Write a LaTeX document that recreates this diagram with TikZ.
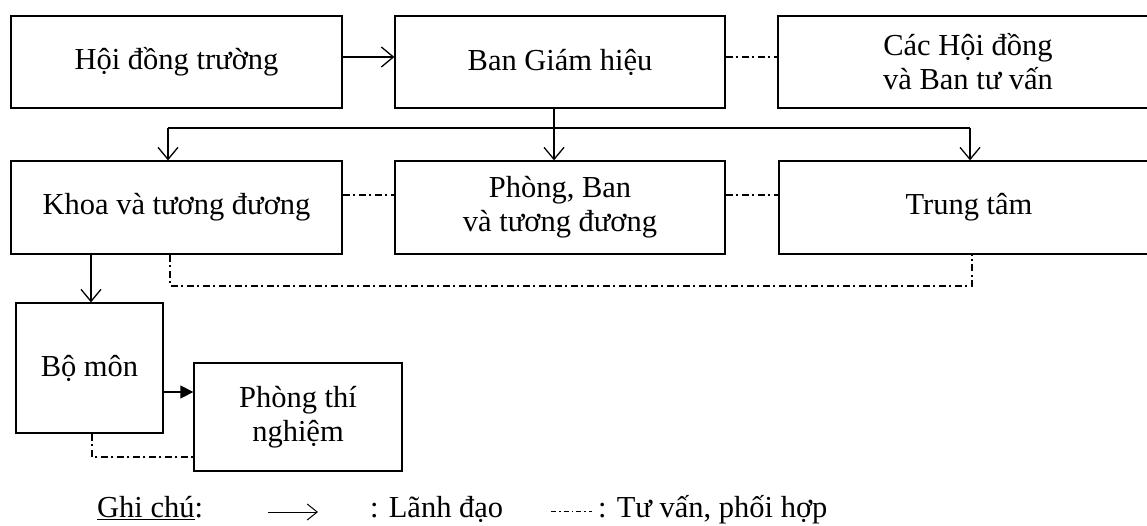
\documentclass[tikz,border=0pt]{standalone}
\usepackage{fontspec}
\setmainfont{Liberation Serif}
\usetikzlibrary{arrows.meta}
\begin{document}
\begin{tikzpicture}[x=1pt,y=-1pt,
  txt/.style={font=\fontsize{30.5}{34}\selectfont},
  box/.style={txt, draw, line width=1.3pt, align=center, inner sep=0pt},
  lead/.style={line width=1.3pt, -{Straight Barb[length=12pt,width=20pt,line width=1.3pt]}},
  leadkey/.style={line width=1pt, -{Straight Barb[length=10pt,width=16pt,line width=1pt]}},
  leadfill/.style={line width=1.3pt, -{Triangle[length=13pt,width=13pt]}},
  link/.style={line width=1.3pt},
  advise/.style={line width=1.2pt, dash pattern=on 7pt off 3.5pt on 2pt off 3.5pt},
  advisesmall/.style={line width=1pt, dash pattern=on 5pt off 3pt on 1.5pt off 3pt}]
% page frame
\path[use as bounding box, clip] (0,0) rectangle (1147,525);

% top row
\node[box, minimum width=331pt, minimum height=92pt] (hdt)  at (176.5,62) {Hội đồng trường};
\node[box, minimum width=330pt, minimum height=92pt] (bgh)  at (560,62)   {Ban Giám hiệu};
\node[box, minimum width=380pt, minimum height=92pt] (hdtv) at (968,62)   {Các Hội đồng\\và Ban tư vấn};

% second row
\node[box, minimum width=331pt, minimum height=93pt] (khoa) at (176.5,207.5) {Khoa và tương đương};
\node[box, minimum width=330pt, minimum height=93pt] (pb)   at (560,207.5)   {Phòng, Ban\\và tương đương};
\node[box, minimum width=380pt, minimum height=93pt] (tt)   at (969,207.5)   {Trung tâm};

% departments and labs
\node[box, minimum width=147pt, minimum height=130pt] (bm)  at (89.5,368) {Bộ môn};
\node[box, minimum width=208pt, minimum height=108pt] (ptn) at (298,417)  {Phòng thí\\nghiệm};

% leadership links
\draw[lead] ([yshift=5pt]hdt.east) -- ([yshift=5pt]bgh.west);
\coordinate (jL) at (168,128);
\coordinate (jR) at (970,128);
\coordinate (jM) at (554,128);
\draw[link] (jL) -- (jR);
\draw[lead] (jM |- bgh.south) -- (jM |- pb.north);
\draw[lead] (jL) -- (jL |- khoa.north);
\draw[lead] (jR) -- (jR |- tt.north);
\coordinate (xk) at (91,0);
\draw[lead] (xk |- khoa.south) -- (xk |- bm.north);
\coordinate (yb) at (0,392);
\draw[leadfill] (bm.east |- yb) -- (ptn.west |- yb);

% advisory / coordination links
\draw[advise] ([yshift=5pt]bgh.east) -- ([yshift=5pt]hdtv.west);
\draw[advise] ([yshift=12.5pt]khoa.east) -- ([yshift=12.5pt]pb.west);
\draw[advise] ([yshift=12.5pt]pb.east) -- ([yshift=12.5pt]tt.west);
\coordinate (dL) at (170,286);
\coordinate (dR) at (972,286);
\draw[advise] (dL |- khoa.south) -- (dL) -- (dR) -- (dR |- tt.south);
\coordinate (dB) at (92,457);
\draw[advise] (dB |- bm.south) -- (dB) -- (ptn.west |- dB);

% legend
\node[txt, anchor=base west, inner sep=0pt] (note) at (97,517) {\underline{Ghi chú}:};
\coordinate (la) at (268,512);
\coordinate (lb) at (318,512);
\draw[leadkey] (la) -- (lb);
\node[txt, anchor=base west, inner sep=0pt] (lead-txt) at (370,517) {: Lãnh đạo};
\coordinate (da) at (551,511);
\coordinate (db) at (592,511);
\draw[advisesmall] (da) -- (db);
\node[txt, anchor=base west, inner sep=0pt] (adv-txt) at (598,517) {: Tư vấn, phối hợp};
\end{tikzpicture}
\end{document}
